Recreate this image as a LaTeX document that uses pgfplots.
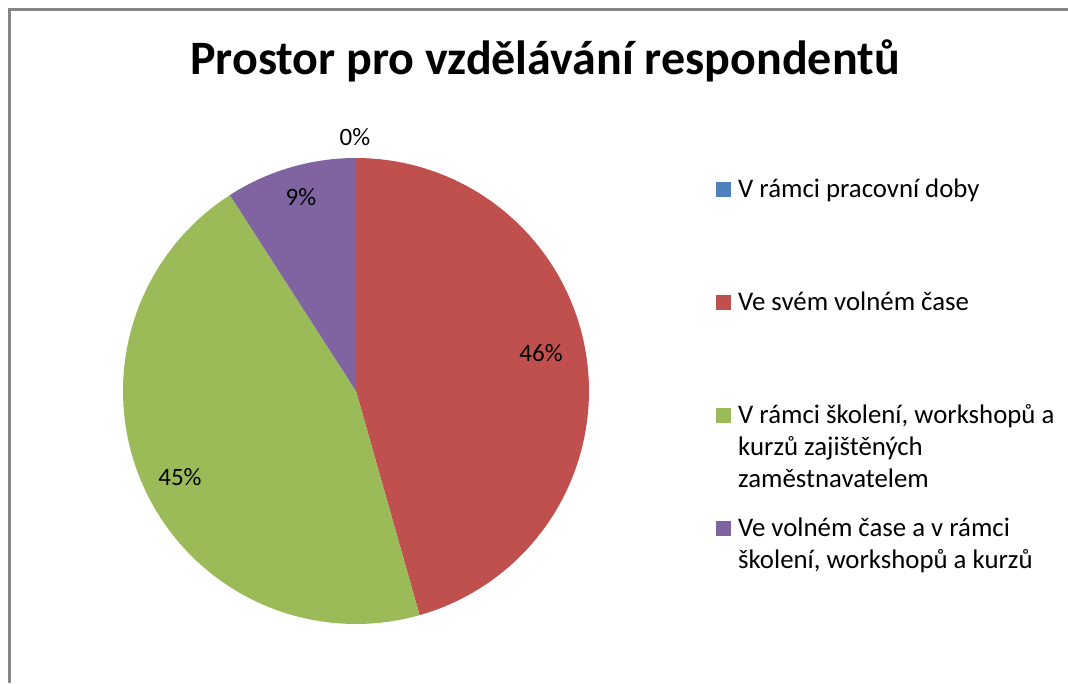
\documentclass[border=0pt]{standalone}
\usepackage{pgfplots}
\pgfplotsset{compat=1.18}
\usepackage{fontspec}
\setmainfont{Carlito}
\definecolor{cblue}{HTML}{4F81BD}
\definecolor{cred}{HTML}{C0504D}
\definecolor{cgreen}{HTML}{9BBB59}
\definecolor{cpurple}{HTML}{8064A2}
\definecolor{cframe}{HTML}{868686}
% shares in percent
\def\vA{0}\def\vB{45.6}\def\vC{45.3}\def\vD{9.1}
\pgfmathsetmacro\aS{90}
\pgfmathsetmacro\aA{\aS-3.6*\vA}
\pgfmathsetmacro\aB{\aA-3.6*\vB}
\pgfmathsetmacro\aC{\aB-3.6*\vC}
\pgfmathsetmacro\aD{\aC-3.6*\vD}
\newcommand{\ml}[1]{\begin{tabular}[t]{@{}l@{}}#1\end{tabular}}
\begin{document}
\begin{tikzpicture}
\begin{axis}[scale only axis, width=1068pt, height=683pt,
  xmin=0, xmax=1068, ymin=0, ymax=683, hide axis, clip=false,
  legend image code/.code={\fill[#1] (0pt,0pt) rectangle (15pt,15pt);},
  legend cell align=left,
  legend style={draw=none, fill=none, at={(axis cs:716,506)}, anchor=north west,
    inner sep=0pt, row sep=0pt, column sep=7pt,
    font=\fontsize{26.8}{32}\selectfont,
    nodes={inner sep=0pt, text height=20pt, text depth=93pt, anchor=base west}},
]
\addlegendimage{fill=cblue, draw=none}
\addlegendentry{V rámci pracovní doby}
\addplot[fill=cred, draw=none, domain=\aB:\aA, samples=100, variable=\t]
  ({356+233*cos(\t)},{292+233*sin(\t)}) -- (axis cs:356,292) -- cycle;
\addlegendentry{Ve svém volném čase}
\addplot[fill=cgreen, draw=none, domain=\aC:\aB, samples=100, variable=\t]
  ({356+233*cos(\t)},{292+233*sin(\t)}) -- (axis cs:356,292) -- cycle;
\addlegendentry{\ml{V rámci školení, workshopů a\\kurzů zajištěných\\zaměstnavatelem}}
\addplot[fill=cpurple, draw=none, domain=\aD:\aC, samples=40, variable=\t]
  ({356+233*cos(\t)},{292+233*sin(\t)}) -- (axis cs:356,292) -- cycle;
\addlegendentry{\ml{Ve volném čase a v rámci\\školení, workshopů a kurzů}}

\node[anchor=base, font=\fontsize{48}{54}\selectfont\bfseries] at (axis cs:545,608) {Prostor pro vzdělávání respondentů};
\node[anchor=base, font=\fontsize{25}{30}\selectfont] at (axis cs:355,537) {0\%};
\node[anchor=base, font=\fontsize{25}{30}\selectfont] at (axis cs:301,477) {9\%};
\node[anchor=base, font=\fontsize{25}{30}\selectfont] at (axis cs:541,321) {46\%};
\node[anchor=base, font=\fontsize{25}{30}\selectfont] at (axis cs:180,197) {45\%};
\draw[cframe, line width=2.5pt] (axis cs:9.5,0) -- (axis cs:9.5,673.5) -- (axis cs:1075,673.5);
\end{axis}
\pgfresetboundingbox
\path (0,0) rectangle (1068pt,683pt);
\end{tikzpicture}
\end{document}
